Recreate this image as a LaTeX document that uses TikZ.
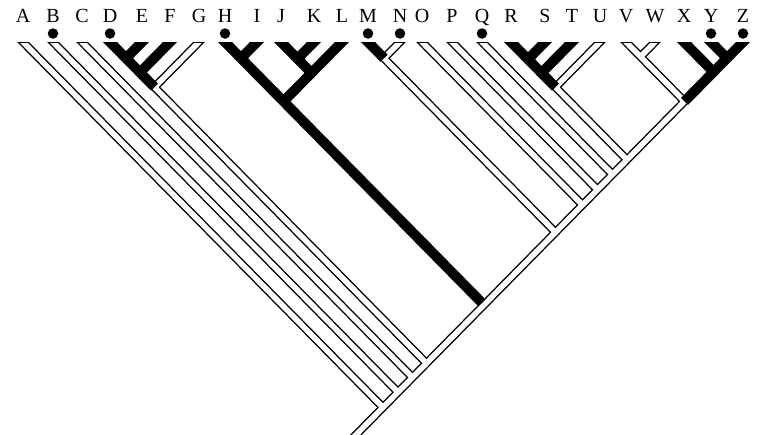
\documentclass[tikz,border=0pt]{standalone}
\usepackage{fontspec}
\setmainfont{Liberation Serif}
\usetikzlibrary{calc}
\tikzset{
  hollowline/.style={line width=8.4pt},
  hollowfill/.style={line width=5.6pt, white},
  blackline/.style={line width=10pt},
  tipend/.style={shorten <=-20pt},
  taxon/.style={font=\fontsize{20}{20}\selectfont, anchor=base, inner sep=0pt},
  tipdot/.style={fill, circle, inner sep=0pt, minimum size=10.5pt},
}
% node of a clade: apex below its outermost tips
\newcommand{\clade}[3]{\coordinate (n#1) at ($(t#2)!0.7125!-45.43:(t#3)$);}

\begin{document}
\begin{tikzpicture}[x=1pt, y=-1pt]
	\clip (0,0) rectangle (760,434);
	
	\foreach \n/\x in {A/23,B/53,C/82,D/110,E/142,F/170,G/199,H/225,I/257,J/281,K/314,L/342,M/368,N/400,O/422,P/452,Q/482,R/511,S/545,T/572,U/600,V/626,W/655,X/684,Y/711,Z/743}{
		\coordinate (t\n) at (\x,42);
		\node[taxon] (l\n) at (\x,22.6) {\n};
	}
	\foreach \n in {B,D,H,M,N,Q,Y,Z}
		\node[tipdot] (d\n) at ($(t\n)+(0,-8.5)$) {};
	
	\clade{DE}{D}{E} \clade{DF}{D}{F} \clade{DG}{D}{G}
	\clade{HI}{H}{I} \clade{JK}{J}{K} \clade{JL}{J}{L} \clade{HL}{H}{L}
	\clade{MN}{M}{N}
	\clade{RS}{R}{S} \clade{RT}{R}{T} \clade{RU}{R}{U}
	\clade{VW}{V}{W} \clade{YZ}{Y}{Z} \clade{XZ}{X}{Z} \clade{VZ}{V}{Z}
	\clade{RZ}{R}{Z} \clade{QZ}{Q}{Z} \clade{PZ}{P}{Z} \clade{OZ}{O}{Z}
	\clade{MZ}{M}{Z} \clade{HZ}{H}{Z} \clade{DZ}{D}{Z} \clade{CZ}{C}{Z}
	\clade{BZ}{B}{Z} \clade{AZ}{A}{Z}
	\coordinate (root) at ($(tZ)!1.2!(nAZ)$);
	
	% open branches: outline
	\begin{scope}
		\clip (0,42) rectangle (760,434);
		\foreach \a/\b in {tA/nAZ,tB/nBZ,tC/nCZ,tG/nDG,tN/nMN,tO/nOZ,tP/nPZ,tQ/nQZ,tU/nRU,tV/nVW,tW/nVW}
			\draw[hollowline, tipend] (\a) -- (\b);
		\foreach \a/\b in {nDG/nDZ,nMN/nMZ,nRU/nRZ,nVW/nVZ,nVZ/nRZ,nRZ/nQZ,nQZ/nPZ,nPZ/nOZ,nOZ/nMZ,nMZ/nHZ,nHZ/nDZ,nDZ/nCZ,nCZ/nBZ,nBZ/nAZ,nAZ/root}
			\draw[hollowline] (\a) -- (\b);
	\end{scope}
	% open branches: inside
	\begin{scope}
		\clip (0,43.3) rectangle (760,434);
		\foreach \a/\b in {tA/nAZ,tB/nBZ,tC/nCZ,tG/nDG,tN/nMN,tO/nOZ,tP/nPZ,tQ/nQZ,tU/nRU,tV/nVW,tW/nVW}
			\draw[hollowfill, tipend] (\a) -- (\b);
		\foreach \a/\b in {nDG/nDZ,nMN/nMZ,nRU/nRZ,nVW/nVZ,nVZ/nRZ,nRZ/nQZ,nQZ/nPZ,nPZ/nOZ,nOZ/nMZ,nMZ/nHZ,nHZ/nDZ,nDZ/nCZ,nCZ/nBZ,nBZ/nAZ,nAZ/root}
			\draw[hollowfill] (\a) -- (\b);
	\end{scope}
	% solid branches
	\begin{scope}
		\clip (0,42) rectangle (760,434);
		\foreach \a/\b in {tD/nDE,tE/nDE,tF/nDF,tH/nHI,tI/nHI,tJ/nJK,tK/nJK,tL/nJL,tM/nMN,tR/nRS,tS/nRS,tT/nRT,tX/nXZ,tY/nYZ,tZ/nYZ}
			\draw[blackline, tipend] (\a) -- (\b);
		\foreach \a/\b in {nDE/nDF,nDF/nDG,nHI/nHL,nJK/nJL,nJL/nHL,nRS/nRT,nRT/nRU,nYZ/nXZ,nXZ/nVZ}
			\draw[blackline] (\a) -- (\b);
		\draw[blackline, shorten >=2.8pt] (nHL) -- (nHZ);
	\end{scope}
\end{tikzpicture}
\end{document}
